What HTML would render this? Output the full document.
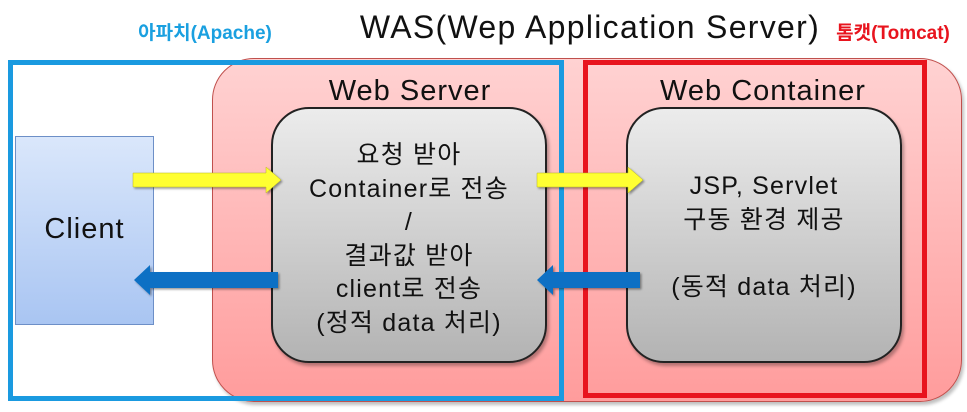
<!DOCTYPE html>
<html><head><meta charset="utf-8"><style>
body{margin:0;width:967px;height:412px;background:#fff;position:relative;overflow:hidden;font-family:"Liberation Sans","Noto Sans CJK KR",sans-serif;}
div{position:absolute;box-sizing:border-box;}
.t{white-space:nowrap;text-align:center;color:#111;}
</style></head><body>
<div class="t" style="left:120px;top:18px;width:170px;font-size:19px;font-weight:bold;color:#1aa0e0;">아파치(Apache)</div>
<div class="t" style="left:340px;top:9px;width:500px;font-size:32px;letter-spacing:1.3px;">WAS(Wep Application Server)</div>
<div class="t" style="left:818px;top:18px;width:150px;font-size:19px;font-weight:bold;color:#e8141e;">톰캣(Tomcat)</div>

<div style="left:212px;top:58px;width:750px;height:344px;border-radius:42px;border:1.5px solid #c0504d;background:linear-gradient(#ffd2d2,#ff9c9c);box-shadow:2px 3px 3px rgba(0,0,0,0.25);"></div>
<div style="left:8px;top:60px;width:556px;height:341px;border:5px solid #1a9ae0;"></div>
<div style="left:583px;top:60px;width:344px;height:338px;border:5px solid #e8141e;"></div>

<div style="left:15px;top:136px;width:139px;height:189px;border:1.5px solid #6d8fc7;background:linear-gradient(#dae7fb,#a9c5f2);"></div>
<div class="t" style="left:15px;top:213px;width:139px;font-size:29px;letter-spacing:1px;">Client</div>

<div class="t" style="left:240px;top:75px;width:340px;font-size:29px;letter-spacing:1px;">Web Server</div>
<div class="t" style="left:593px;top:75px;width:340px;font-size:29px;letter-spacing:1px;">Web Container</div>

<div style="left:271px;top:107px;width:276px;height:256px;border-radius:38px;border:2px solid #222;background:linear-gradient(#ececec,#b3b3b3);box-shadow:2px 3px 3px rgba(0,0,0,0.3);"></div>
<div style="left:626px;top:107px;width:276px;height:256px;border-radius:38px;border:2px solid #222;background:linear-gradient(#ececec,#b3b3b3);box-shadow:2px 3px 3px rgba(0,0,0,0.3);"></div>

<div class="t" style="left:261px;top:139px;width:296px;font-size:25px;line-height:33.5px;letter-spacing:1.2px;">요청 받아<br>Container로 전송<br>/<br>결과값 받아<br>client로 전송<br>(정적 data 처리)</div>
<div class="t" style="left:616px;top:170px;width:296px;font-size:25px;line-height:33.5px;letter-spacing:1.2px;">JSP, Servlet<br>구동 환경 제공<br><br>(동적 data 처리)</div>

<svg width="967" height="412" style="position:absolute;left:0;top:0;">
<defs><filter id="s"><feDropShadow dx="1.5" dy="1.5" stdDeviation="1" flood-opacity="0.4"/></filter></defs>
<g filter="url(#s)">
<polygon points="133,173 266,173 266,167 281,180 266,193 266,187 133,187" fill="#ffff33" stroke="#b8b820" stroke-width="0.5"/>
<polygon points="537,173 628,173 628,167 643,180 628,193 628,187 537,187" fill="#ffff33" stroke="#b8b820" stroke-width="0.5"/>
<polygon points="278,272 150,272 150,265 134,280 150,295 150,288 278,288" fill="#1070c4"/>
<polygon points="640,272 553,272 553,265 537,280 553,295 553,288 640,288" fill="#1070c4"/>
</g>
</svg>
</body></html>
